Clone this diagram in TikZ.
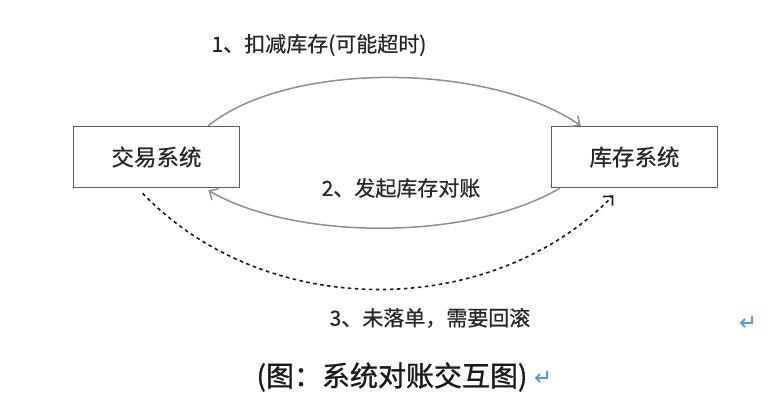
\documentclass[tikz,border=0pt]{standalone}
\usepackage{fontspec}
\setmainfont{Noto Sans CJK SC}[FakeBold=0.5]
\newfontfamily\capfont{Noto Sans CJK SC}[FakeBold=1.0]
\newfontfamily\symfont{DejaVu Sans}[FakeBold=1.0]
\usetikzlibrary{arrows.meta}
\definecolor{boxline}{HTML}{5A5A5A}
\definecolor{arrowgray}{HTML}{8E8E8E}
\definecolor{markblue}{HTML}{5B9BD5}
\tikzset{
  sysbox/.style={draw=boxline, line width=1.6pt, minimum width=166pt, minimum height=61pt, inner sep=0pt, font=\fontsize{22.5}{26}\selectfont, text=black!85},
  lbl/.style={inner sep=0pt, font=\fontsize{21}{25}\selectfont, text=black!85},
  solidarrow/.style={draw=arrowgray, line width=1.5pt, -{Straight Barb[length=7pt,width=13pt,line width=1.5pt]}},
  dasharrow/.style={draw=black!90, line width=1.6pt, dash pattern=on 3.5pt off 3.5pt, -{Straight Barb[length=7pt,width=13pt,line width=1.6pt]}},
  pmark/.style={inner sep=0pt, font=\symfont\fontsize{21}{24}\selectfont, text=markblue}
}
\begin{document}
\begin{tikzpicture}[x=1pt,y=-1pt]
\useasboundingbox (0,0) rectangle (778,412);
\node[sysbox] (trade) at (156.5,157) {交易系统};
\node[sysbox] (stock) at (634.5,157) {库存系统};
\coordinate (a1s) at ([xshift=-32pt]trade.north east);
\coordinate (a1e) at ([xshift=30pt]stock.north west);
\coordinate (a2s) at ([xshift=9pt]stock.south west);
\coordinate (a2e) at ([xshift=-32pt,yshift=-2pt]trade.south east);
\coordinate (a3s) at ([xshift=70pt,yshift=-5pt]trade.south west);
\coordinate (a3e) at ([xshift=-21pt,yshift=-7pt]stock.south);
\draw[solidarrow] (a1s) .. controls (290,60) and (490,63) .. (a1e);
\draw[solidarrow] (a2s) .. controls (470,241) and (295,241) .. (a2e);
\draw[dasharrow] (a3s) .. controls (265,321) and (490,321) .. (a3e);
\node[lbl] (l1) at (319,45) {1、扣减库存(可能超时)};
\node[lbl] (l2) at (401,188) {2、发起库存对账};
\node[lbl] (l3) at (430,318) {3、未落单，需要回滚};
\node[inner sep=0pt, font=\capfont\fontsize{28}{32}\selectfont, text=black!90] (cap) at (392,377) {(图：系统对账交互图)};
\node[pmark] (m1) at (748,323) {↵};
\node[pmark] (m2) at (543,378) {↵};
\end{tikzpicture}
\end{document}
